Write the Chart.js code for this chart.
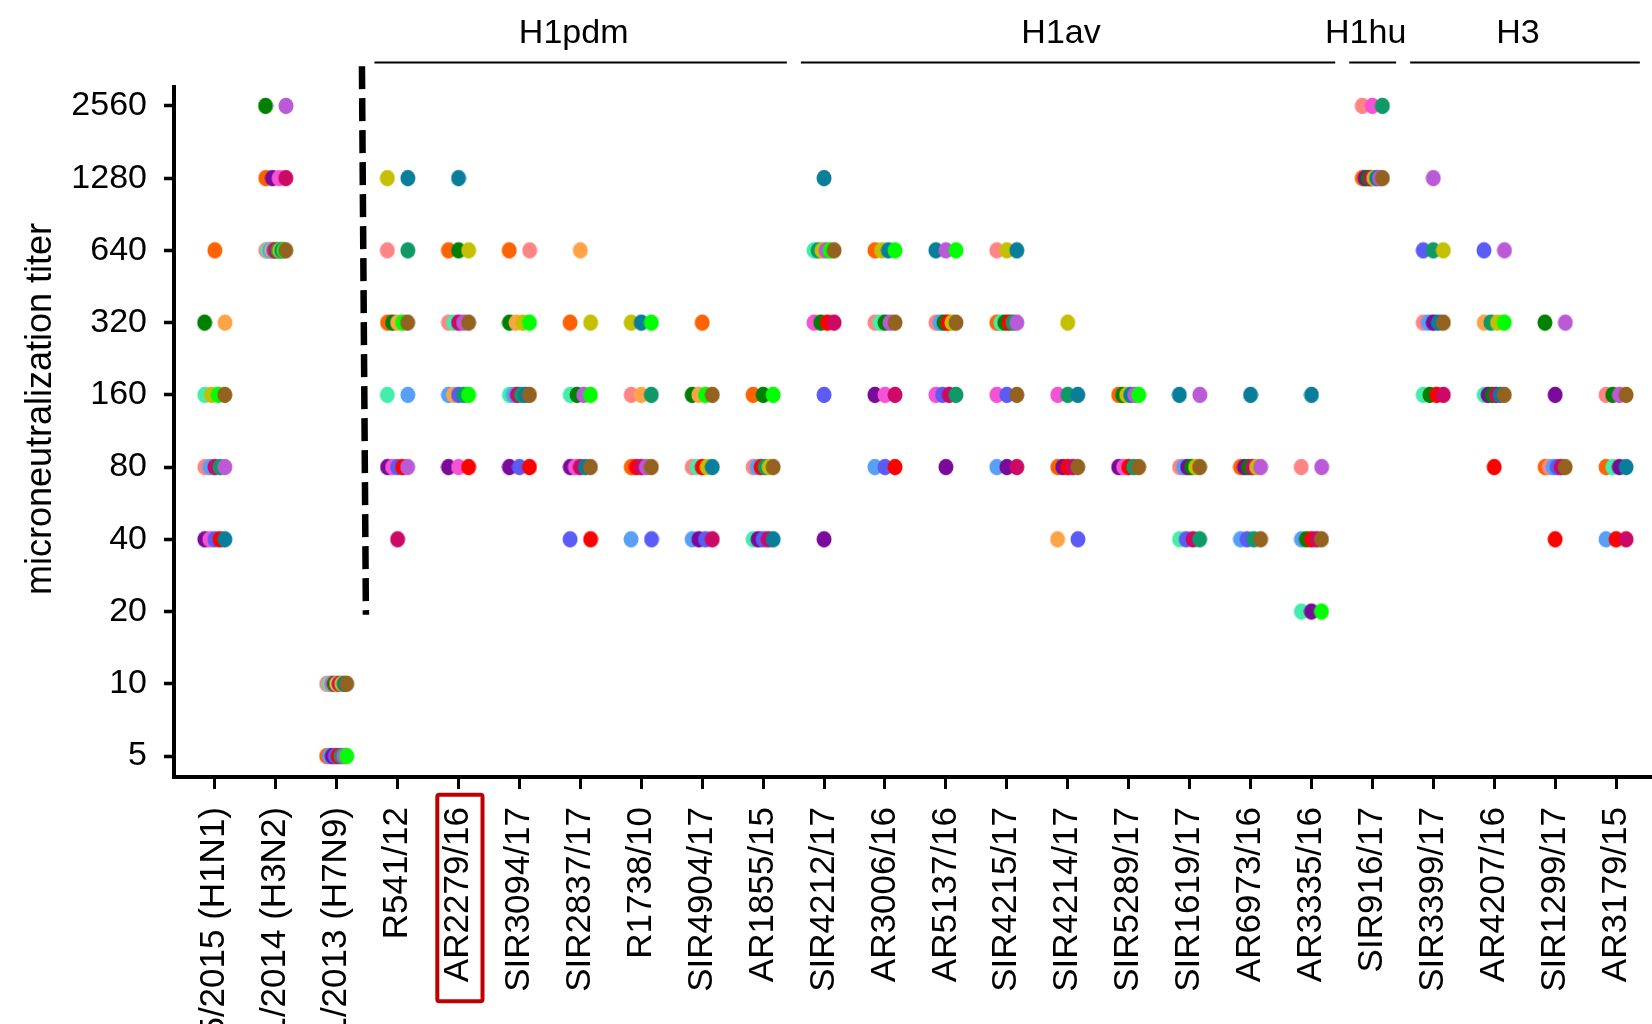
<!DOCTYPE html>
<html>
<head>
<meta charset="utf-8">
<script src="https://cdn.jsdelivr.net/npm/chart.js@4.4.1/dist/chart.umd.min.js"></script>
<style>
html,body{margin:0;padding:0;background:#fff;overflow:hidden}
canvas{display:block}
</style>
</head>
<body>
<canvas id="c" width="1652" height="1024"></canvas>
<script>
// ---------------- DATA ----------------
const categories = [
  'A/Michigan/45/2015 (H1N1)', 'A/Hong Kong/4801/2014 (H3N2)', 'A/Anhui/1/2013 (H7N9)',
  'R541/12', 'AR2279/16', 'SIR3094/17', 'SIR2837/17', 'R1738/10', 'SIR4904/17', 'AR1855/15',
  'SIR4212/17', 'AR3006/16', 'AR5137/16', 'SIR4215/17', 'SIR4214/17', 'SIR5289/17', 'SIR1619/17',
  'AR6973/16', 'AR3335/16', 'SIR916/17', 'SIR3399/17', 'AR4207/16', 'SIR1299/17', 'AR3179/15'
];
const yTickValues = [5, 10, 20, 40, 80, 160, 320, 640, 1280, 2560];
const yTitle = 'microneutralization titer';
const groupNames = ['H1pdm', 'H1av', 'H1hu', 'H3'];
const groupFirst = [3, 10, 19, 20];
const groupLast  = [9, 18, 19, 23];
const highlightedIndex = 4;   // AR2279/16
const dividerAfter = 2;       // dashed line after the reference strains

// one array per serum (titer against each of the 24 viruses)
const serumA = [640,1280,5,320,640,640,320,80,320,160,null,640,null,320,80,160,null,80,null,1280,null,null,80,80];
const serumB = [80,640,10,640,320,640,null,160,80,80,null,320,320,640,null,null,80,null,80,2560,320,null,80,160];
const serumC = [160,640,10,160,320,160,160,null,80,40,640,320,null,320,null,null,40,null,20,null,160,160,null,80];
const serumD = [80,640,5,160,160,160,null,40,40,80,null,80,320,80,null,null,80,40,40,null,320,null,80,40];
const serumE = [40,1280,5,80,80,80,80,null,40,40,40,160,80,80,80,80,80,80,20,1280,320,160,160,80];
const serumF = [40,1280,10,80,80,null,80,null,null,null,320,160,160,160,160,80,null,null,null,2560,null,null,null,null];
const serumL = [320,2560,10,320,640,320,160,null,160,160,320,320,320,320,null,160,80,80,40,1280,160,160,320,160];
const serumG = [320,640,10,320,160,320,640,160,160,null,null,null,null,null,40,null,null,null,null,null,null,320,null,null];
const serumH = [40,640,5,80,160,80,40,40,40,40,160,80,160,160,40,null,40,40,null,null,640,640,80,null];
const serumI = [40,640,5,80,80,80,40,80,80,80,320,80,320,320,80,80,null,null,40,null,160,80,40,40];
const serumJ = [80,1280,10,40,320,160,80,80,40,40,320,160,160,80,80,null,40,80,40,1280,160,160,80,40];
const serumK = [80,640,5,640,160,160,null,160,null,80,640,null,160,320,160,80,40,40,null,2560,640,320,null,null];
const serumP = [160,640,10,1280,640,320,320,320,80,80,640,640,320,640,320,160,80,80,null,1280,640,320,null,null];
const serumM = [40,640,10,1280,1280,160,80,320,80,40,1280,640,640,640,160,160,160,160,160,1280,320,160,null,80];
const serumN = [80,2560,5,80,320,null,160,80,null,null,640,320,640,320,null,160,160,80,80,1280,1280,640,320,160];
const serumO = [160,640,5,320,160,320,160,320,160,160,640,640,640,null,null,160,null,null,20,null,null,320,null,null];
const serumQ = [160,640,10,320,320,160,80,80,160,80,640,320,320,160,80,80,80,40,40,1280,320,160,80,160];

const series = [serumA, serumB, serumC, serumD, serumE, serumF, serumL, serumG, serumH,
                serumI, serumJ, serumK, serumP, serumM, serumN, serumO, serumQ];

// ---------------- STYLE ----------------
const seriesColors = ['#FF6200', '#FF8585', '#44EDAA', '#589FF6', '#7A0A99', '#F552D6', '#008000',
  '#FFA347', '#5B5BF5', '#FF0000', '#CC0A66', '#0F9966', '#C4C000', '#087E9A', '#BA5AD6', '#00FF00', '#94621F'];
const PAIR_GAP = 0.336;       // category units between two equal values
const CLUSTER_SPREAD = 0.33;  // total spread for 3+ equal values
const FONT = '"Liberation Sans", Arial, Helvetica, sans-serif';

Chart.defaults.font.family = FONT;
Chart.defaults.color = '#000';

function makeDot(color) {
  const c = document.createElement('canvas');
  c.width = 16; c.height = 18;
  const g = c.getContext('2d');
  g.fillStyle = color;
  g.beginPath();
  g.ellipse(8, 9, 7.5, 8.3, 0, 0, Math.PI * 2);
  g.fill();
  return c;
}

function buildPoints(si) {
  const pts = [];
  series[si].forEach((v, ci) => {
    if (v == null) return;
    const mates = [];
    series.forEach((s, k) => { if (s[ci] === v) mates.push(k); });
    const n = mates.length, r = mates.indexOf(si);
    let step = 0;
    if (n === 2) step = PAIR_GAP; else if (n > 2) step = CLUSTER_SPREAD / (n - 1);
    pts.push({ x: ci + (r - (n - 1) / 2) * step, y: v });
  });
  return pts;
}

const datasets = series.map((s, i) => ({
  label: 'serum ' + (i + 1),
  data: buildPoints(i),
  pointStyle: makeDot(seriesColors[i]),
  pointRadius: 8,
  pointHoverRadius: 8,
  backgroundColor: seriesColors[i],
  borderColor: seriesColors[i],
  showLine: false,
  order: -i
}));

const decor = {
  id: 'decor',
  afterDraw(chart) {
    const { ctx, scales: { x, y } } = chart;
    ctx.save();
    // dashed divider
    ctx.strokeStyle = '#000';
    ctx.lineWidth = 6.5;
    ctx.lineCap = 'butt';
    ctx.setLineDash([23, 9]);
    ctx.beginPath();
    ctx.moveTo(x.getPixelForValue(dividerAfter + 0.415), y.getPixelForValue(3750));
    ctx.lineTo(x.getPixelForValue(dividerAfter + 0.48), y.getPixelForValue(19.4));
    ctx.stroke();
    ctx.setLineDash([]);

    // group brackets
    ctx.lineWidth = 2;
    ctx.fillStyle = '#000';
    ctx.font = '34px ' + FONT;
    ctx.textAlign = 'center';
    ctx.textBaseline = 'alphabetic';
    groupNames.forEach((name, g) => {
      const x1 = x.getPixelForValue(groupFirst[g] - 0.38);
      const x2 = x.getPixelForValue(groupLast[g] + 0.39);
      ctx.beginPath();
      ctx.moveTo(x1, 62.5);
      ctx.lineTo(x2, 62.5);
      ctx.stroke();
      ctx.fillText(name, (x1 + x2) / 2 - 7, 42.5);
    });

    // y-axis title
    ctx.save();
    ctx.translate(51, 409);
    ctx.rotate(-Math.PI / 2);
    ctx.font = '36px ' + FONT;
    ctx.textAlign = 'center';
    ctx.textBaseline = 'alphabetic';
    ctx.fillText(yTitle, 0, 0);
    ctx.restore();

    // highlight box around a tick label
    const cx = x.getPixelForValue(highlightedIndex);
    ctx.strokeStyle = '#C00000';
    ctx.lineWidth = 4;
    ctx.beginPath();
    if (ctx.roundRect) ctx.roundRect(cx - 21.2, 794.7, 45.2, 206.6, 2);
    else ctx.rect(cx - 21.2, 794.7, 45.2, 206.6);
    ctx.stroke();
    ctx.restore();
  }
};

new Chart(document.getElementById('c'), {
  type: 'scatter',
  data: { datasets },
  options: {
    responsive: false,
    animation: false,
    devicePixelRatio: 1,
    layout: { autoPadding: false, padding: { top: 87, left: 0, right: 0, bottom: 0 } },
    plugins: { legend: { display: false }, tooltip: { enabled: false } },
    scales: {
      x: {
        type: 'linear',
        min: -0.67,
        max: 23.59,
        bounds: 'data',
        afterBuildTicks(s) { s.ticks = categories.map((_, i) => ({ value: i })); },
        afterFit(s) { s.height = 247; s.paddingLeft = 0; s.paddingRight = 0; },
        ticks: {
          autoSkip: false, minRotation: 90, maxRotation: 90, padding: 18,
          font: { size: 35 }, color: '#000',
          callback: (v) => categories[Math.round(v)]
        },
        grid: { drawOnChartArea: false, drawTicks: true, tickLength: 12, tickWidth: 3, tickColor: '#000' },
        border: { display: true, color: '#000', width: 4 }
      },
      y: {
        type: 'logarithmic',
        min: 4.09,
        max: 3070,
        afterBuildTicks(s) { s.ticks = yTickValues.map(v => ({ value: v })); },
        afterFit(s) { s.width = 174; s.paddingTop = 0; s.paddingBottom = 0; },
        ticks: {
          autoSkip: false, padding: 17, font: { size: 34 }, color: '#000',
          callback: (v) => String(v)
        },
        grid: { drawOnChartArea: false, drawTicks: true, tickLength: 10, tickWidth: 3.5, tickColor: '#000' },
        border: { display: true, color: '#000', width: 4 }
      }
    }
  },
  plugins: [decor]
});
</script>
</body>
</html>
